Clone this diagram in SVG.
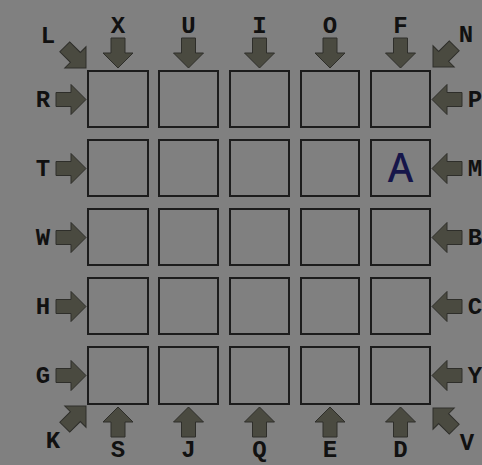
<svg xmlns="http://www.w3.org/2000/svg" width="482" height="465" viewBox="0 0 482 465">
<style>
.box{fill:#808080;stroke:#1c1c1c;stroke-width:2}
.arr{fill:#4a4a40;stroke:#2e2e2a;stroke-width:1}
.lbl{font-family:"Liberation Mono","Courier New",monospace;font-weight:bold;font-size:24px;fill:#111;text-anchor:middle}
.big{font-family:"Noto Sans","Open Sans",sans-serif;font-size:39px;font-weight:500;fill:#16164a;text-anchor:middle}
</style>
<defs>
<path id="arr" d="M0,0 L-15,-15 L-7,-15 L-7,-30 L7,-30 L7,-15 L15,-15 Z"/>
</defs>
<rect width="482" height="465" fill="#808080"/>
<g id="grid">
<g id="r1">
<rect class="box" x="88" y="71" width="60" height="56"/>
<rect class="box" x="159" y="71" width="59" height="56"/>
<rect class="box" x="230" y="71" width="59" height="56"/>
<rect class="box" x="301" y="71" width="58" height="56"/>
<rect class="box" x="371" y="71" width="59" height="56"/>
</g>
<g id="r2">
<rect class="box" x="88" y="140" width="60" height="56"/>
<rect class="box" x="159" y="140" width="59" height="56"/>
<rect class="box" x="230" y="140" width="59" height="56"/>
<rect class="box" x="301" y="140" width="58" height="56"/>
<rect class="box" x="371" y="140" width="59" height="56"/>
</g>
<g id="r3">
<rect class="box" x="88" y="209" width="60" height="56"/>
<rect class="box" x="159" y="209" width="59" height="56"/>
<rect class="box" x="230" y="209" width="59" height="56"/>
<rect class="box" x="301" y="209" width="58" height="56"/>
<rect class="box" x="371" y="209" width="59" height="56"/>
</g>
<g id="r4">
<rect class="box" x="88" y="278" width="60" height="56"/>
<rect class="box" x="159" y="278" width="59" height="56"/>
<rect class="box" x="230" y="278" width="59" height="56"/>
<rect class="box" x="301" y="278" width="58" height="56"/>
<rect class="box" x="371" y="278" width="59" height="56"/>
</g>
<g id="r5">
<rect class="box" x="88" y="347" width="60" height="57"/>
<rect class="box" x="159" y="347" width="59" height="57"/>
<rect class="box" x="230" y="347" width="59" height="57"/>
<rect class="box" x="301" y="347" width="58" height="57"/>
<rect class="box" x="371" y="347" width="59" height="57"/>
</g>
<text id="cellA" class="big" x="400.5" y="182">A</text>
</g>
<g id="arrows">
<use href="#arr" class="arr" transform="translate(118,68)"/>
<use href="#arr" class="arr" transform="translate(188.5,68)"/>
<use href="#arr" class="arr" transform="translate(259.5,68)"/>
<use href="#arr" class="arr" transform="translate(330,68)"/>
<use href="#arr" class="arr" transform="translate(400.5,68)"/>
<use href="#arr" class="arr" transform="translate(118,407) rotate(180)"/>
<use href="#arr" class="arr" transform="translate(188.5,407) rotate(180)"/>
<use href="#arr" class="arr" transform="translate(259.5,407) rotate(180)"/>
<use href="#arr" class="arr" transform="translate(330,407) rotate(180)"/>
<use href="#arr" class="arr" transform="translate(400.5,407) rotate(180)"/>
<use href="#arr" class="arr" transform="translate(86,99.5) rotate(-90)"/>
<use href="#arr" class="arr" transform="translate(86,168.5) rotate(-90)"/>
<use href="#arr" class="arr" transform="translate(86,237.5) rotate(-90)"/>
<use href="#arr" class="arr" transform="translate(86,306.5) rotate(-90)"/>
<use href="#arr" class="arr" transform="translate(86,375.5) rotate(-90)"/>
<use href="#arr" class="arr" transform="translate(432,99.5) rotate(90)"/>
<use href="#arr" class="arr" transform="translate(432,168.5) rotate(90)"/>
<use href="#arr" class="arr" transform="translate(432,237.5) rotate(90)"/>
<use href="#arr" class="arr" transform="translate(432,306.5) rotate(90)"/>
<use href="#arr" class="arr" transform="translate(432,375.5) rotate(90)"/>
<use href="#arr" class="arr" transform="translate(86,68) rotate(-45)"/>
<use href="#arr" class="arr" transform="translate(433,67) rotate(45)"/>
<use href="#arr" class="arr" transform="translate(86,406) rotate(-135)"/>
<use href="#arr" class="arr" transform="translate(433,408) rotate(135)"/>
</g>
<g id="labels">
<text class="lbl" x="118" y="33">X</text>
<text class="lbl" x="188.5" y="33">U</text>
<text class="lbl" x="259.5" y="33">I</text>
<text class="lbl" x="330" y="33">O</text>
<text class="lbl" x="400.5" y="33">F</text>
<text class="lbl" x="118" y="457">S</text>
<text class="lbl" x="188.5" y="457">J</text>
<text class="lbl" x="259.5" y="457">Q</text>
<text class="lbl" x="330" y="457">E</text>
<text class="lbl" x="400.5" y="457">D</text>
<text class="lbl" x="43" y="107">R</text>
<text class="lbl" x="43" y="176">T</text>
<text class="lbl" x="43" y="245">W</text>
<text class="lbl" x="43" y="314">H</text>
<text class="lbl" x="43" y="383">G</text>
<text class="lbl" x="475" y="107">P</text>
<text class="lbl" x="475" y="176">M</text>
<text class="lbl" x="475" y="245">B</text>
<text class="lbl" x="475" y="314">C</text>
<text class="lbl" x="475" y="383">Y</text>
<text class="lbl" x="48" y="43">L</text>
<text class="lbl" x="466" y="42">N</text>
<text class="lbl" x="53" y="448">K</text>
<text class="lbl" x="467" y="450">V</text>
</g>
</svg>
